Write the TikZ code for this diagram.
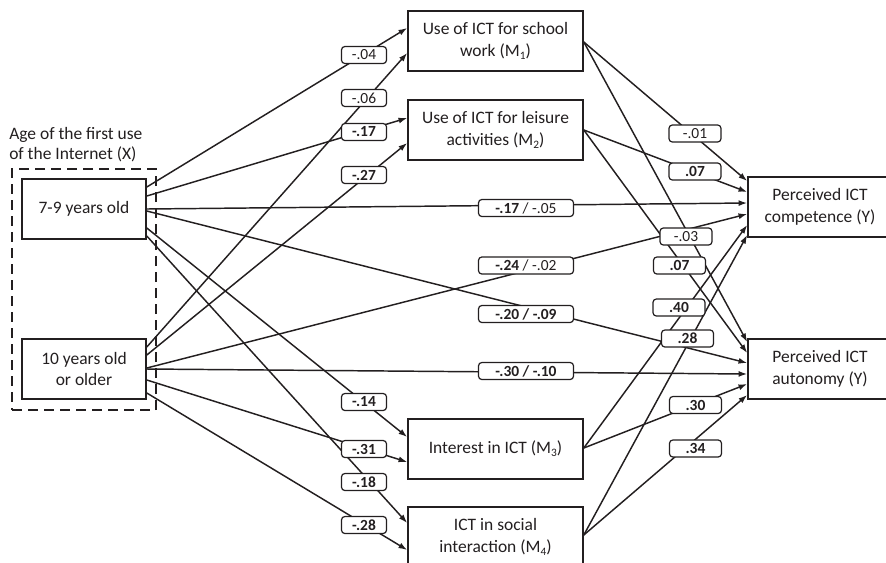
\documentclass[tikz,border=0pt]{standalone}
\usepackage{fontspec}
\setmainfont{Carlito}
\usetikzlibrary{calc,arrows.meta}
\definecolor{ink}{HTML}{231F20}
% small lowered digit used for the mediator indices
\newcommand\subdig[1]{\raisebox{-0.35ex}{\fontsize{8.5}{8.5}\selectfont #1}}
\begin{document}
\begin{tikzpicture}[x=0.75pt,y=-0.75pt,
  mainbox/.style={draw=ink,line width=1.2pt,fill=white,minimum width=#1,
    minimum height=45pt,inner sep=0pt,align=center,text=ink,
    font=\fontsize{13.1}{16.2}\selectfont},
  coef/.style={draw=ink,line width=0.9pt,fill=white,rounded corners=2.5pt,
    minimum width=#1,minimum height=12.75pt,inner sep=0pt,text=ink,
    font=\fontsize{11.6}{12}\selectfont},
  coef/.default=39pt,
  conn/.style={draw=ink,line width=1.1pt,-{Latex[length=6.5pt,width=4.5pt]}}]
\useasboundingbox (0,0) rectangle (886,562);
\clip (0,0) rectangle (886,562);

% grouping of the predictor
\node[draw=ink,line width=1.1pt,dash pattern=on 7.5pt off 4.5pt,
  minimum width=108pt,minimum height=180.75pt,inner sep=0pt] (grp) at (84,289.5) {};
\node[anchor=west,align=left,text=ink,inner sep=0pt,
  font=\fontsize{13.1}{15}\selectfont] (xlab) at (9,145)
  {Age of the first use\\of the Internet (X)};

% predictor, mediators and outcomes
\node[mainbox=93pt] (x1) at (84,209) {7-9 years old};
\node[mainbox=93pt] (x2) at (84,369) {10 years old\\or older};
\node[mainbox=131.25pt] (m1) at (495.5,41) {Use of ICT for school\\work (M\subdig{1})};
\node[mainbox=131.25pt] (m2) at (495.5,130) {Use of ICT for leisure\\activities (M\subdig{2})};
\node[mainbox=131.25pt] (m3) at (495.5,449) {Interest in ICT (M\subdig{3})};
\node[mainbox=131.25pt] (m4) at (495.5,537) {ICT in social\\interaction (M\subdig{4})};
\node[mainbox=108pt] (y1) at (820,207) {Perceived ICT\\competence (Y)};
\node[mainbox=108pt] (y2) at (820,369) {Perceived ICT\\autonomy (Y)};

% paths from 7-9 years old
\draw[conn] ($(x1.east)+(0,-22)$) -- ($(m1.west)+(0,-13)$);
\draw[conn] ($(x1.east)+(0,-13)$) -- ($(m2.west)+(0,-12)$);
\draw[conn] ($(x1.east)+(0,0)$) -- ($(y1.west)+(0,-4)$);
\draw[conn] ($(x1.east)+(0,2)$) -- ($(y2.west)+(0,-6)$);
\draw[conn] ($(x1.east)+(0,19)$) -- ($(m3.west)+(0,-12)$);
\draw[conn] ($(x1.east)+(0,27)$) -- ($(m4.west)+(0,-14)$);

% paths from 10 years old or older
\draw[conn] ($(x2.east)+(0,-22)$) -- ($(m1.west)+(0,12)$);
\draw[conn] ($(x2.east)+(0,-14)$) -- ($(m2.west)+(0,13)$);
\draw[conn] ($(x2.east)+(0,-1)$) -- ($(y1.west)+(0,7)$);
\draw[conn] ($(x2.east)+(0,0)$) -- ($(y2.west)+(0,5)$);
\draw[conn] ($(x2.east)+(0,11)$) -- ($(m3.west)+(0,13)$);
\draw[conn] ($(x2.east)+(0,24)$) -- ($(m4.west)+(0,13)$);

% paths from the mediators
\draw[conn] ($(m1.east)+(0,1)$) -- ($(y1.west)+(0,-26)$);
\draw[conn] ($(m1.east)+(0,1)$) -- ($(y2.west)+(0,-27)$);
\draw[conn] (m2.east) -- ($(y1.west)+(0,-15)$);
\draw[conn] (m2.east) -- ($(y2.west)+(0,-16)$);
\draw[conn] ($(m3.east)+(0,-1)$) -- ($(y1.west)+(0,18)$);
\draw[conn] ($(m3.east)+(0,-1)$) -- ($(y2.west)+(0,15)$);
\draw[conn] ($(m4.east)+(0,-2)$) -- ($(y1.west)+(0,28)$);
\draw[conn] ($(m4.east)+(0,-2)$) -- ($(y2.west)+(0,26)$);

% path coefficients
\node[coef=33.75pt] (c1) at (364,55) {-.04};
\node[coef=33.75pt] (c2) at (364,98) {-.06};
\node[coef=33.75pt] (c3) at (364,132) {\bfseries -.17};
\node[coef=33.75pt] (c4) at (364,175) {\bfseries -.27};
\node[coef=33.75pt] (c5) at (364,402) {\bfseries -.14};
\node[coef=33.75pt] (c6) at (364,449) {\bfseries -.31};
\node[coef=33.75pt] (c7) at (364,482) {\bfseries -.18};
\node[coef=33.75pt] (c8) at (364,525) {\bfseries -.28};

\node[coef=71.25pt] (d1) at (526,208) {{\bfseries -.17} / -.05};
\node[coef=71.25pt] (d2) at (526,265.5) {{\bfseries -.24} / -.02};
\node[coef=71.25pt] (d3) at (526,314) {\bfseries -.20 / -.09};
\node[coef=71.25pt] (d4) at (526,371) {\bfseries -.30 / -.10};

\node[coef] (e1) at (695,133.5) {-.01};
\node[coef] (e2) at (695,171.5) {\bfseries .07};
\node[coef] (e3) at (686,236.5) {-.03};
\node[coef] (e4) at (679.5,265.5) {\bfseries .07};
\node[coef] (e5) at (679,307.5) {\bfseries .40};
\node[coef] (e6) at (687.5,338.5) {\bfseries .28};
\node[coef] (e7) at (695.5,405) {\bfseries .30};
\node[coef] (e8) at (695.5,448.5) {\bfseries .34};
\end{tikzpicture}
\end{document}
